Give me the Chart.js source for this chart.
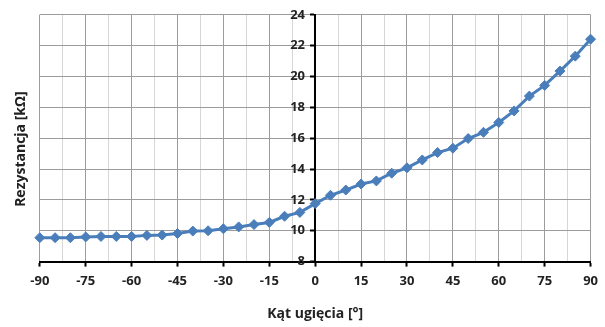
<!DOCTYPE html>
<html>
<head>
<meta charset="utf-8">
<script src="https://cdn.jsdelivr.net/npm/chart.js@4/dist/chart.umd.min.js"></script>
<style>
html,body{margin:0;padding:0;background:#fff;}
#wrap{width:605px;height:327px;position:relative;}
</style>
</head>
<body>
<div id="wrap"><canvas id="c" width="605" height="327"></canvas></div>
<script>
const angles = [-90,-85,-80,-75,-70,-65,-60,-55,-50,-45,-40,-35,-30,-25,-20,-15,-10,-5,0,5,10,15,20,25,30,35,40,45,50,55,60,65,70,75,80,85,90];
const resistance = [9.55,9.55,9.55,9.6,9.63,9.63,9.63,9.7,9.72,9.82,9.98,10.0,10.13,10.25,10.4,10.54,10.94,11.19,11.76,12.3,12.64,13.03,13.23,13.73,14.08,14.59,15.07,15.35,15.98,16.38,17.02,17.77,18.73,19.42,20.35,21.32,22.42];
const xTickLabels = [-90,-75,-60,-45,-30,-15,0,15,30,45,60,75,90];
const yTickLabels = [8,10,12,14,16,18,20,22,24];
const xTitle = 'Kąt ugięcia [°]';
const yTitle = 'Rezystancja [kΩ]';

const FONT = '"Open Sans", "Liberation Sans", sans-serif';
const MAJOR = '#9c9c9c';
const MINOR = '#d6d6d6';
const BLUE = '#4a7ebb';

const points = angles.map((a, i) => ({x: a, y: resistance[i]}));
const isXMajor = v => xTickLabels.some(t => Math.abs(t - v) < 1e-6);
const isYMajor = v => yTickLabels.some(t => Math.abs(t - v) < 1e-6);

new Chart(document.getElementById('c'), {
  type: 'line',
  data: {
    datasets: [{
      data: points,
      borderColor: BLUE,
      backgroundColor: BLUE,
      borderWidth: 3,
      pointStyle: 'rectRot',
      pointRadius: 5,
      pointBorderWidth: 1,
      pointBackgroundColor: BLUE,
      pointBorderColor: BLUE,
      tension: 0,
      clip: false
    }]
  },
  options: {
    responsive: false,
    animation: false,
    events: [],
    layout: {padding: {left: 0, right: 12, top: 13, bottom: 5}},
    plugins: {legend: {display: false}, tooltip: {enabled: false}},
    scales: {
      x: {
        type: 'linear',
        position: 'bottom',
        min: -90, max: 90,
        ticks: {
          stepSize: 7.5,
          autoSkip: false,
          maxRotation: 0,
          padding: 7,
          color: '#222',
          font: {family: FONT, size: 13, weight: 'bold'},
          callback: v => isXMajor(v) ? String(Math.round(v)) : ''
        },
        grid: {
          color: c => (c.tick && isXMajor(c.tick.value)) ? MAJOR : MINOR,
          lineWidth: 1,
          tickLength: 5,
          tickColor: c => (c.tick && isXMajor(c.tick.value)) ? '#000' : 'rgba(0,0,0,0)',
          tickWidth: 2
        },
        border: {display: true, color: '#000', width: 2},
        title: {
          display: true, text: xTitle, color: '#222',
          font: {family: FONT, size: 14, weight: 'bold'},
          padding: {top: 9, bottom: 0}
        }
      },
      y: {
        type: 'linear',
        position: {x: 0},
        min: 8, max: 24,
        ticks: {
          stepSize: 1,
          padding: 7,
          color: '#222',
          font: {family: FONT, size: 13, weight: 'bold'},
          callback: v => isYMajor(v) ? String(Math.round(v)) + '   ' : ''
        },
        grid: {
          color: c => (c.tick && isYMajor(c.tick.value)) ? MAJOR : MINOR,
          lineWidth: 1,
          tickLength: 4,
          tickColor: c => (c.tick && isYMajor(c.tick.value)) ? '#000' : 'rgba(0,0,0,0)',
          tickWidth: 2
        },
        border: {display: true, color: '#000', width: 2}
      },
      yTitleAxis: {
        type: 'linear',
        axis: 'y',
        position: 'left',
        min: 0, max: 1,
        ticks: {display: false},
        grid: {display: false, drawTicks: false},
        border: {display: false},
        title: {
          display: true, text: yTitle + '      ', color: '#222',
          font: {family: FONT, size: 14, weight: 'bold'},
          padding: {top: 13, bottom: 10}
        }
      }
    }
  }
});
</script>
</body>
</html>
